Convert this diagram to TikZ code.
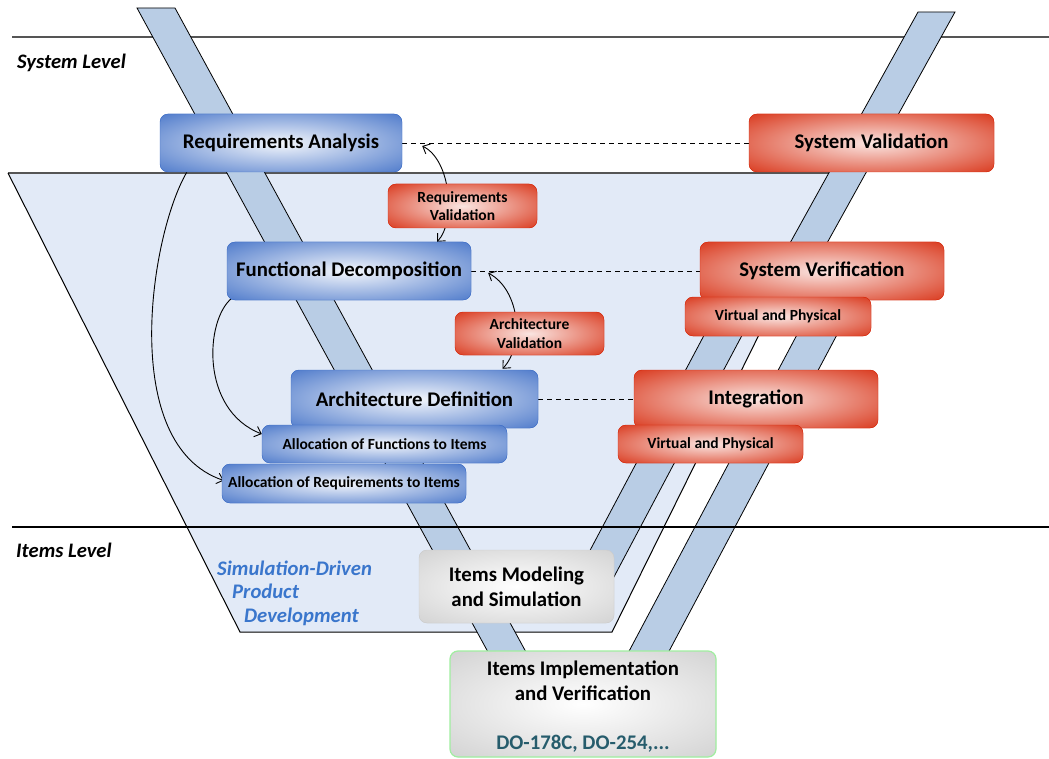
\documentclass[tikz,border=0pt]{standalone}
\usepackage{fontspec}
\setmainfont{Carlito}
\usetikzlibrary{calc,arrows.meta}
\pgfdeclarelayer{back}
\pgfdeclarelayer{links}
\pgfsetlayers{back,links,main}

\definecolor{boxblue}{RGB}{62,110,198}
\definecolor{boxred}{RGB}{214,40,10}
\definecolor{boxgray}{RGB}{204,204,204}
\definecolor{bandfill}{RGB}{185,205,229}
\definecolor{zonefill}{RGB}{226,234,247}
\definecolor{simblue}{RGB}{58,118,204}
\definecolor{doteal}{RGB}{38,92,108}
\definecolor{rulegray}{RGB}{85,85,85}
\definecolor{implgreen}{RGB}{160,238,160}

\tikzset{
  glow/.style n args={3}{rounded corners=8pt, fill=#1, draw=#1, inner sep=0pt,
    align=center,
    path picture={
      \shade[inner color=#2, outer color=#1]
        let \p1=(path picture bounding box.south west),
            \p2=(path picture bounding box.north east) in
        ($(\p1)!0.5!(\p2)$) ellipse [x radius={#3*(\x2-\x1)}, y radius={0.8*(\y2-\y1)}];
    }},
  bigfont/.style={font=\fontsize{20.8}{25}\selectfont\bfseries},
  smallfont/.style={font=\fontsize{15.5}{18.5}\selectfont\bfseries},
  bluebox/.style={glow={boxblue}{white!94!boxblue}{0.78}},
  redbox/.style={glow={boxred}{white!88!boxred}{0.78}},
  graybox/.style={glow={boxgray}{white}{0.85}},
  band/.style={fill=bandfill, draw=black, line width=0.8pt},
  levellabel/.style={anchor=west, inner sep=0pt, font=\fontsize{20.6}{24}\selectfont\bfseries\itshape},
  trace/.style={dashed, dash pattern=on 5pt off 4pt, line width=0.9pt},
  loop/.style={line width=0.9pt, {Straight Barb[length=6pt,width=11pt]}-{Straight Barb[length=6pt,width=11pt]}},
  alloc/.style={line width=0.9pt, -{Straight Barb[length=6pt,width=11pt]}},
}

\begin{document}
\begin{tikzpicture}[x=1pt, y=-1pt]
\useasboundingbox (0,0) rectangle (1049,759);

% ---------- boxes of the V ----------
\node[bluebox, bigfont, minimum width=242pt, minimum height=58pt] (ra) at (281,143) {Requirements Analysis};
\node[bluebox, bigfont, minimum width=244pt, minimum height=58pt] (fd) at (349,271) {Functional Decomposition};
\node[bluebox, bigfont, minimum width=247pt, minimum height=58pt] (ad) at (414.5,399) {Architecture Definition};
\node[bluebox, smallfont, minimum width=245pt, minimum height=38pt] (af) at (384.5,444) {Allocation of Functions to Items};
\node[bluebox, smallfont, minimum width=244pt, minimum height=39pt] (ar) at (344,483.5) {Allocation of Requirements to Items};

\node[redbox, smallfont, minimum width=149pt, minimum height=44pt] (rv) at (462.5,206) {Requirements\\Validation};
\node[redbox, smallfont, minimum width=149pt, minimum height=43pt] (av) at (529.5,333.5) {Architecture\\Validation};

\node[redbox, bigfont, minimum width=245pt, minimum height=58pt] (sval) at (871.5,143) {System Validation};
\node[redbox, bigfont, minimum width=244pt, minimum height=58pt] (sver) at (822,271) {System Verification};
\node[redbox, smallfont, minimum width=186pt, minimum height=39pt] (vpa) at (778,316.5) {Virtual and Physical};
\node[redbox, bigfont, minimum width=244pt, minimum height=58pt] (integ) at (756,399) {Integration};
\node[redbox, smallfont, minimum width=185pt, minimum height=38pt] (vpb) at (710.5,444) {Virtual and Physical};

\node[graybox, bigfont, minimum width=195pt, minimum height=73pt] (ims) at (516.5,586.5) {Items Modeling\\and Simulation};
\node[graybox, draw=implgreen, line width=1.2pt, minimum width=266pt, minimum height=106pt] (iiv) at (583,704) {};
\node[bigfont, align=center, inner sep=0pt] (iivtext) at (583,707)
  {Items Implementation\\and Verification\\[24pt]{\color{doteal}DO-178C, DO-254,...}};

% ---------- level labels ----------
\node[levellabel] (syslvl) at (17,63) {System Level};
\node[levellabel] (itemlvl) at (16,550) {Items Level};
\node[anchor=north west, inner sep=0pt, align=left, text=simblue,
      font=\fontsize{20.7}{23.5}\selectfont\bfseries\itshape] (sdpd) at (217,560.5)
  {Simulation-Driven\\\hspace*{15pt}Product\\\hspace*{27pt}Development};

% ---------- background: rules, zone and the arms of the V ----------
\begin{pgfonlayer}{back}
  \draw[rulegray, line width=1.5pt] (12,37) -- (1049,37);
  \fill[zonefill] (8,173) -- (839,173) -- (612,632) -- (240,632) -- cycle;
  \draw[rulegray, line width=1.3pt] (8,173) -- (839,173);
  \draw[black, line width=1pt] (8,173) -- (240,632) -- (612,632) -- (839,173);
  % left arm
  \draw[band] (137,8) -- (175,8) -- (581,753) -- (543,753) -- cycle;
  % right arms
  \draw[band] (918,12) -- (955,12) -- (801,290) -- (764,290) -- cycle;
  \draw[band] (745,258) -- (783,258) -- (598,607) -- (560,607) -- cycle;
  \draw[band] (817,297) -- (857,297) -- (615,753) -- (575,753) -- cycle;
  \draw[black, line width=1.1pt] (12,527) -- (1049,527);
\end{pgfonlayer}

% ---------- connectors ----------
\begin{pgfonlayer}{links}
  \draw[trace] (ra.east) -- (sval.west);
  \draw[trace] (fd.east) -- (sver.west);
  \draw[trace] (ad.east) -- (integ.west);
  \draw[loop] ($(ra.east)+(20,3)$) .. controls (451,160) and (456,222) .. ($(fd.north)+(88,0)$);
  \draw[loop] ($(fd.east)+(17,2)$) .. controls (520,290) and (525,345) .. ($(ad.north)+(88,-1)$);
  \draw[alloc] ($(ra.south west)+(27,0)$) .. controls (150,235) and (118,445) .. ($(ar.west)+(2,-3)$);
  \draw[alloc] ($(fd.south west)+(5,-2)$) .. controls (205,320) and (200,410) .. ($(af.west)+(0,-10)$);
\end{pgfonlayer}
\end{tikzpicture}
\end{document}
